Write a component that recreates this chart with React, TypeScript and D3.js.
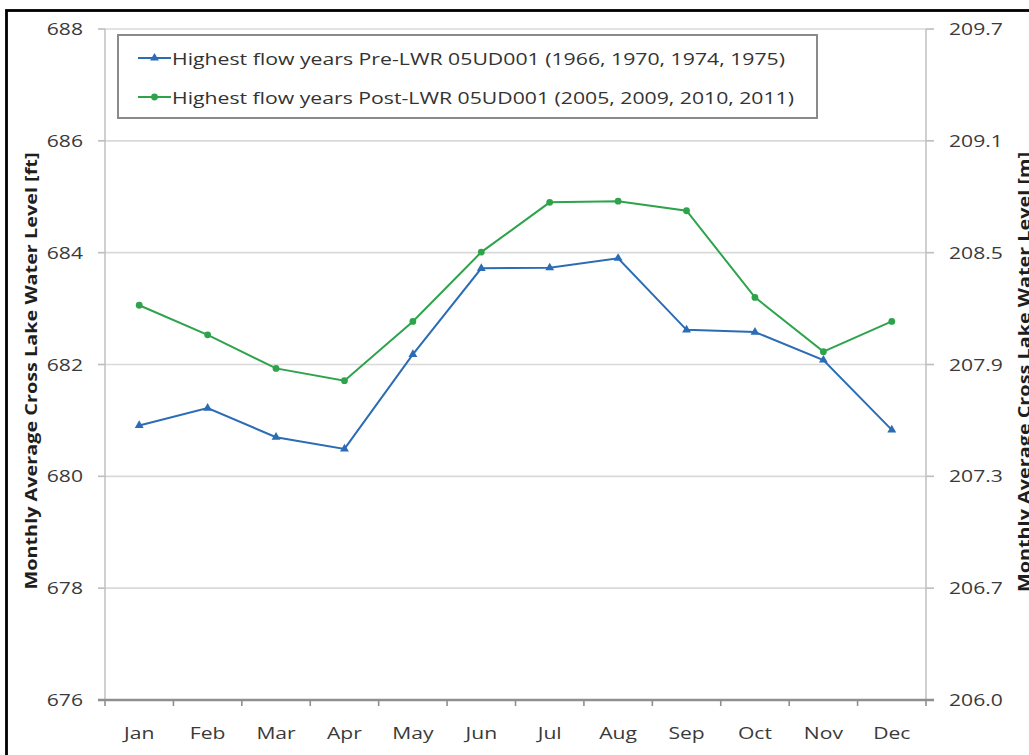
import React from "react";
import * as d3 from "d3";

const months = ["Jan", "Feb", "Mar", "Apr", "May", "Jun", "Jul", "Aug", "Sep", "Oct", "Nov", "Dec"];
const preLWR = [680.91, 681.22, 680.7, 680.49, 682.18, 683.72, 683.73, 683.9, 682.62, 682.58, 682.08, 680.83];
const postLWR = [683.06, 682.53, 681.93, 681.71, 682.77, 684.01, 684.9, 684.92, 684.75, 683.2, 682.23, 682.77];
const ftTicks = [676, 678, 680, 682, 684, 686, 688];
const seriesNames = [
  "Highest flow years Pre-LWR 05UD001 (1966, 1970, 1974, 1975)",
  "Highest flow years Post-LWR 05UD001 (2005, 2009, 2010, 2011)",
];
const FT_TO_M = 0.3048;

const BLUE = "#2b6cb5";
const GREEN = "#2ea34c";
const FONT = "'Open Sans', sans-serif";
const SX = 1.28;

export default function App() {
  const left = 105, right = 926, top = 29, bottom = 700;
  const x = d3.scaleBand<string>().domain(months).range([left, right]);
  const y = d3.scaleLinear().domain([676, 688]).range([bottom, top]);
  const yR = d3.scaleLinear().domain([676 * FT_TO_M, 688 * FT_TO_M]).range([bottom, top]);
  const mTicks = ftTicks.map((v) => v * FT_TO_M);
  const fmt = d3.format(".1f");
  const cx = (m: string) => (x(m) as number) + x.bandwidth() / 2;

  const line = d3
    .line<number>()
    .x((_, i) => cx(months[i]))
    .y((d) => y(d));

  const tri = d3.symbol().type(d3.symbolTriangle).size(34)() as string;
  const boundaries = d3.range(months.length + 1).map((i) => left + i * x.bandwidth());

  const txt = (
    tx: number,
    ty: number,
    s: string,
    anchor: "start" | "middle" | "end",
    key?: string
  ) => (
    <text
      key={key}
      transform={`translate(${tx},${ty}) scale(${SX},1)`}
      textAnchor={anchor}
      dominantBaseline="central"
      fontFamily={FONT}
      fontSize={16.5}
      fill="#3a3a3a"
    >
      {s}
    </text>
  );

  return (
    <svg
      width={1029}
      height={755}
      style={{ position: "absolute", left: 0, top: 0, background: "#fff" }}
    >
      <rect x={0} y={0} width={1029} height={755} fill="#fff" />
      {/* frame */}
      <rect x={6.5} y={10.5} width={1100} height={800} fill="none" stroke="#000" strokeWidth={2.8} />

      {/* gridlines */}
      {ftTicks.slice(1).map((t) => (
        <line key={"g" + t} x1={left} x2={right} y1={y(t)} y2={y(t)} stroke="#d9d9d9" strokeWidth={1.6} />
      ))}
      {/* axis lines */}
      <line x1={left} x2={left} y1={top} y2={bottom} stroke="#c4c4c4" strokeWidth={1.6} />
      <line x1={right} x2={right} y1={top} y2={bottom} stroke="#c4c4c4" strokeWidth={1.6} />
      {ftTicks.map((t) => (
        <line key={"lt" + t} x1={98} x2={left} y1={y(t)} y2={y(t)} stroke="#bdbdbd" strokeWidth={1.6} />
      ))}
      {mTicks.map((t, i) => (
        <line key={"rt" + i} x1={right} x2={934} y1={yR(t)} y2={yR(t)} stroke="#bdbdbd" strokeWidth={1.6} />
      ))}
      <line x1={98} x2={934} y1={bottom} y2={bottom} stroke="#8f8f8f" strokeWidth={2.6} />
      {boundaries.map((b, i) => (
        <line key={"xt" + i} x1={b} x2={b} y1={bottom} y2={bottom + 6} stroke="#8f8f8f" strokeWidth={1.6} />
      ))}

      {/* tick labels */}
      {ftTicks.map((t) => txt(83, y(t), String(t), "end", "ly" + t))}
      {mTicks.map((t, i) => txt(949, yR(t), fmt(t), "start", "ry" + i))}
      {months.map((m) => txt(cx(m), 733, m, "middle", "x" + m))}

      {/* axis titles */}
      <text
        transform={`translate(37,371) rotate(-90)`}
        textAnchor="middle"
        fontFamily={FONT}
        fontWeight="bold"
        fontSize={16}
        fill="#1e1e1e"
        textLength={437}
        lengthAdjust="spacingAndGlyphs"
      >
        Monthly Average Cross Lake Water Level [ft]
      </text>
      <text
        transform={`translate(1030,372) rotate(-90)`}
        textAnchor="middle"
        fontFamily={FONT}
        fontWeight="bold"
        fontSize={16}
        fill="#1e1e1e"
        textLength={440}
        lengthAdjust="spacingAndGlyphs"
      >
        Monthly Average Cross Lake Water Level [m]
      </text>

      {/* series */}
      <path d={line(preLWR) as string} fill="none" stroke={BLUE} strokeWidth={2} />
      <path d={line(postLWR) as string} fill="none" stroke={GREEN} strokeWidth={2} />
      {preLWR.map((v, i) => (
        <path key={"pm" + i} d={tri} transform={`translate(${cx(months[i])},${y(v)})`} fill={BLUE} />
      ))}
      {postLWR.map((v, i) => (
        <circle key={"qm" + i} cx={cx(months[i])} cy={y(v)} r={3.4} fill={GREEN} />
      ))}

      {/* legend */}
      <rect x={118} y={35} width={699} height={83} fill="#fff" stroke="#8a8a8a" strokeWidth={2} />
      <line x1={138} x2={171} y1={58} y2={58} stroke={BLUE} strokeWidth={2} />
      <path d={tri} transform="translate(154.5,58)" fill={BLUE} />
      <text
        x={172}
        y={58}
        dominantBaseline="central"
        fontFamily={FONT}
        fontSize={17}
        fill="#333"
        textLength={613}
        lengthAdjust="spacingAndGlyphs"
      >
        {seriesNames[0]}
      </text>
      <line x1={138} x2={171} y1={97} y2={97} stroke={GREEN} strokeWidth={2} />
      <circle cx={154.5} cy={97} r={3.4} fill={GREEN} />
      <text
        x={172}
        y={97}
        dominantBaseline="central"
        fontFamily={FONT}
        fontSize={17}
        fill="#333"
        textLength={622}
        lengthAdjust="spacingAndGlyphs"
      >
        {seriesNames[1]}
      </text>
    </svg>
  );
}
